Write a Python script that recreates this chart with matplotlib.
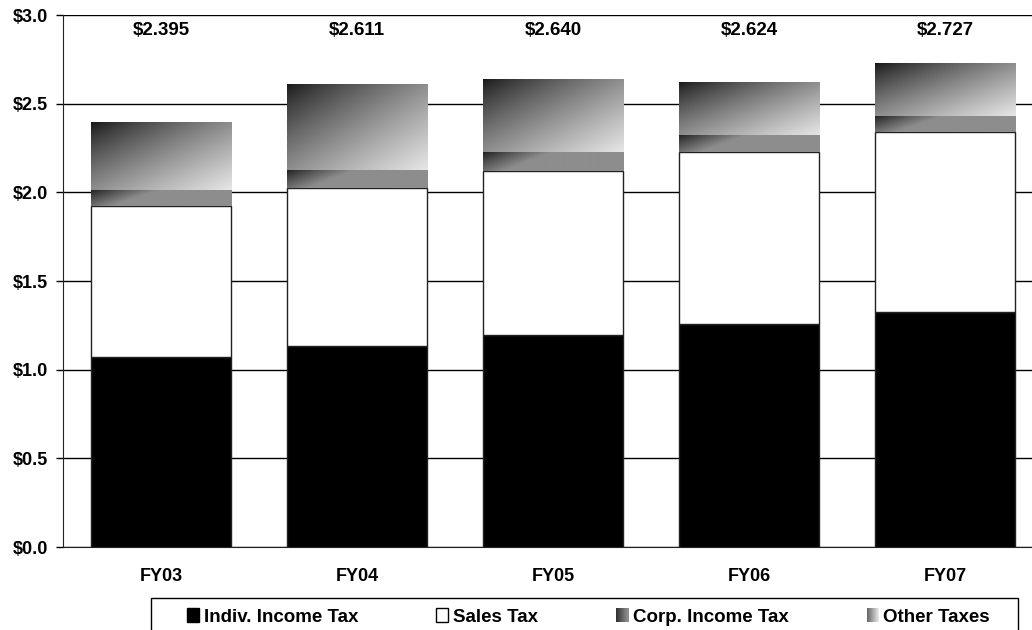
import numpy as np
import matplotlib
matplotlib.use("Agg")
import matplotlib.pyplot as plt
from matplotlib.colors import LinearSegmentedColormap
from matplotlib.patches import Rectangle
from matplotlib.legend_handler import HandlerBase

plt.rcParams['font.family'] = ['Liberation Sans', 'DejaVu Sans']
plt.rcParams['font.weight'] = 'bold'

# Data (billions of dollars)
years = ["FY03", "FY04", "FY05", "FY06", "FY07"]
indiv = [1.070, 1.132, 1.194, 1.259, 1.324]
sales = [0.851, 0.891, 0.925, 0.967, 1.015]
corp = [0.092, 0.103, 0.109, 0.099, 0.092]
other = [0.382, 0.485, 0.412, 0.299, 0.296]
totals = [2.395, 2.611, 2.640, 2.624, 2.727]
labels = ["Indiv. Income Tax", "Sales Tax", "Corp. Income Tax", "Other Taxes"]

other_cmap = LinearSegmentedColormap.from_list("other", ["#151515", "#e6e6e6"])
corp_cmap = LinearSegmentedColormap.from_list("corp", ["#1c1c1c", "#8d8d8d"])

# u: left->right, v: top->bottom
u, v = np.meshgrid(np.linspace(0, 1, 200), np.linspace(0, 1, 100))
other_grad = ((u + v) / 2) ** 0.8
corp_grad = np.clip((u + 0.35 * v) / 0.5, 0, 1) ** 0.9

fig = plt.figure(figsize=(10.32, 6.3), dpi=100)
ax = fig.add_axes([63 / 1032, 83 / 630, 969 / 1032, 532 / 630])

x = np.arange(len(years))
w = 0.717
b1 = np.array(indiv)
b2 = b1 + np.array(sales)
b3 = b2 + np.array(corp)

ax.bar(x, indiv, w, color='black', edgecolor='#222222', linewidth=1, zorder=3)
ax.bar(x, sales, w, bottom=b1, color='white', edgecolor='#222222', linewidth=1, zorder=3)
corp_bars = ax.bar(x, corp, w, bottom=b2, color='none', linewidth=0, zorder=3)
other_bars = ax.bar(x, other, w, bottom=b3, color='none', linewidth=0, zorder=3)

# gradient fills clipped to the bar rectangles
for bars, grad, cmap in [(corp_bars, corp_grad, corp_cmap), (other_bars, other_grad, other_cmap)]:
    for bar in bars:
        x0, y0 = bar.get_x(), bar.get_y()
        x1, y1 = x0 + bar.get_width(), y0 + bar.get_height()
        im = ax.imshow(grad, extent=[x0, x1, y0, y1], origin='upper', cmap=cmap,
                       vmin=0, vmax=1, aspect='auto', zorder=3, interpolation='bilinear')
        im.set_clip_path(bar)

for i, t in enumerate(totals):
    ax.text(x[i], 2.912, f"${t:.3f}", ha='center', va='center', fontsize=13.5, fontweight='bold')

ax.set_xlim(-0.5, 4.444)
ax.set_ylim(0, 3.0)
ax.set_yticks(np.arange(0, 3.01, 0.5))
ax.set_yticklabels([f"${y:.1f}" for y in np.arange(0, 3.01, 0.5)], fontsize=13, fontweight='bold')
ax.set_xticks(x)
ax.set_xticklabels(years, fontsize=13, fontweight='bold')
ax.tick_params(axis='x', length=0, pad=15)
ax.tick_params(axis='y', length=5, direction='out', width=1, pad=6)
ax.yaxis.grid(True, color='black', linewidth=1, zorder=0)
ax.set_axisbelow(True)
for s in ['top', 'right']:
    ax.spines[s].set_visible(False)
ax.spines['left'].set_color('#222222')
ax.spines['bottom'].set_color('#222222')


class GradHandler(HandlerBase):
    def __init__(self, cmap, lo, hi):
        super().__init__()
        self.cmap, self.lo, self.hi = cmap, lo, hi

    def create_artists(self, legend, orig_handle, xdescent, ydescent, width, height, fontsize, trans):
        n = 12
        arts = []
        for k in range(n):
            c = self.cmap(self.lo + (self.hi - self.lo) * k / (n - 1))
            arts.append(Rectangle((-xdescent + width * k / n, -ydescent), width / n + 0.3, height,
                                  facecolor=c, edgecolor='none', transform=trans))
        return arts


# legend frame (runs off the bottom of the figure)
fig.patches.append(Rectangle((151 / 1032, -0.05), 867 / 1032, 0.05 + 32 / 630,
                             transform=fig.transFigure, facecolor='white',
                             edgecolor='black', linewidth=1))

h1 = Rectangle((0, 0), 1, 1, facecolor='black', edgecolor='black')
h2 = Rectangle((0, 0), 1, 1, facecolor='white', edgecolor='black')
h3 = Rectangle((0, 0), 1, 1)
h4 = Rectangle((0, 0), 1, 1)
leg = fig.legend([h1, h2, h3, h4], labels, loc='center left',
                 bbox_to_anchor=(187 / 1032, 13 / 630, 803 / 1032, 0), mode='expand',
                 ncol=4, fontsize=13.5, frameon=False, borderpad=0, borderaxespad=0,
                 handlelength=0.65, handleheight=0.75, handletextpad=0.25,
                 handler_map={h3: GradHandler(corp_cmap, 0.2, 1.0),
                              h4: GradHandler(other_cmap, 0.4, 1.0)})
for t in leg.get_texts():
    t.set_fontweight('bold')

fig.savefig("out.png", dpi=100)
